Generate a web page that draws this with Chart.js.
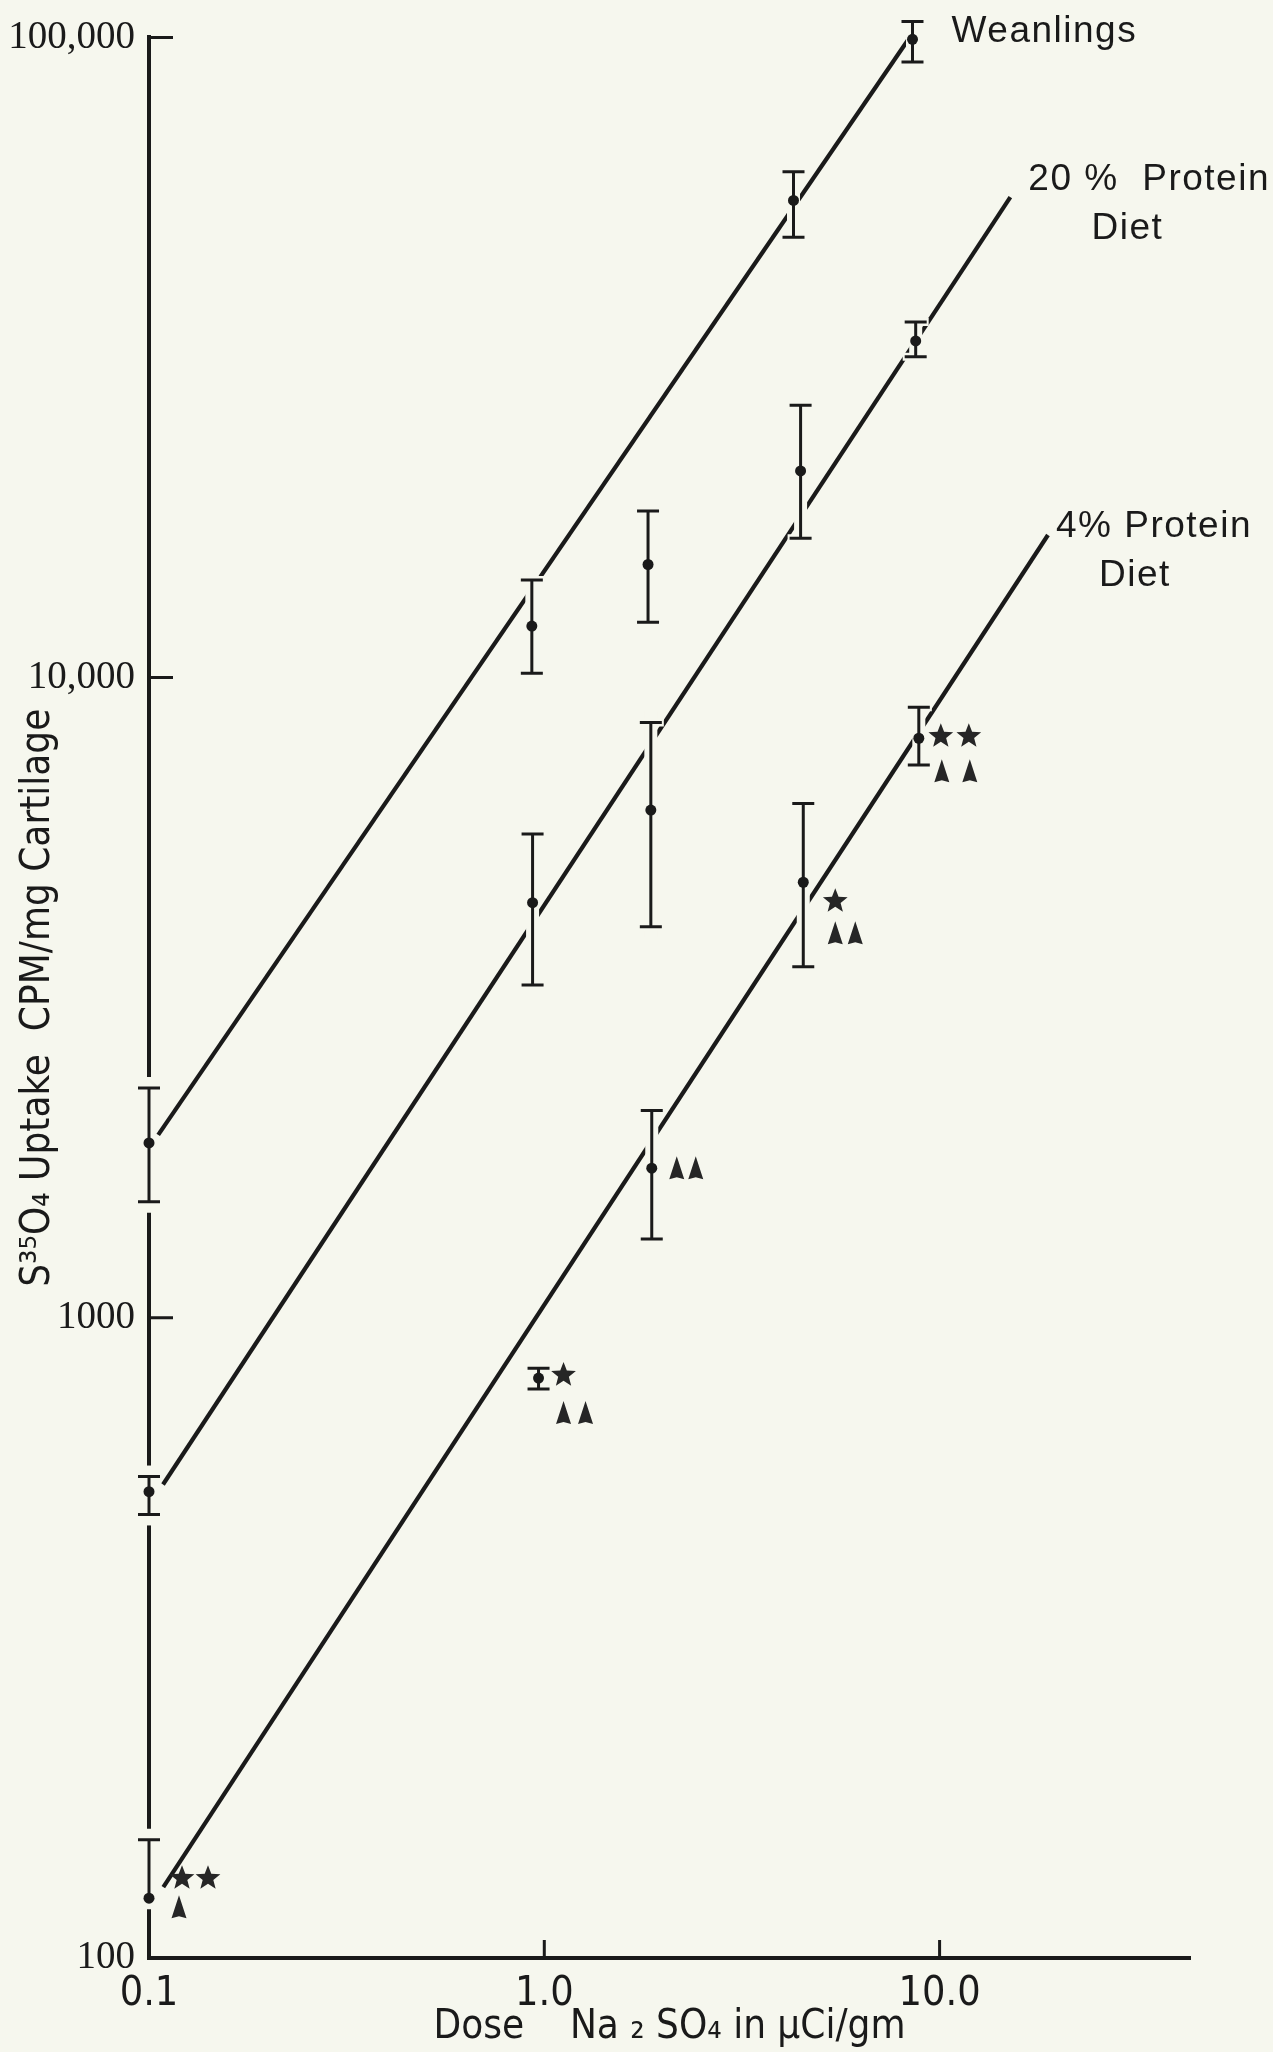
<!DOCTYPE html>
<html><head><meta charset="utf-8">
<script src="https://cdn.jsdelivr.net/npm/chart.js@4/dist/chart.umd.min.js"></script>
<style>
html,body{margin:0;padding:0;background:#f6f7ee;}
#wrap{position:absolute;left:0;top:0;width:1273px;height:2052px;}
</style></head><body>
<div id="wrap"><canvas id="c" width="1273" height="2052"></canvas></div>
<script>
// ---------------- data ----------------
const weanDose   = [0.1, 0.93, 1.83, 4.27, 8.54];
const weanUptake = [1876, 12035, 15020, 55630, 99300];
const weanHigh   = [2286, 14200, 18210, 61660, 105900];
const weanLow    = [1518, 10160, 12200, 48740, 91570];

const p20Dose   = [0.1, 0.934, 1.86, 4.45, 8.70];
const p20Uptake = [535, 4450, 6210, 21030, 33570];
const p20High   = [565, 5700, 8510, 26640, 35940];
const p20Low    = [493, 3310, 4080, 16500, 31700];

const p4Dose   = [0.1, 0.967, 1.87, 4.52, 8.86];
const p4Uptake = [124, 805, 1713, 4790, 8040];
const p4High   = [153, 834, 2107, 6360, 8985];
const p4Low    = [124, 774, 1328, 3534, 7303];

// fitted regression lines (end points)
const weanFitDose   = [0.1055, 8.3];
const weanFitUptake = [1931, 98900];
const p20FitDose    = [0.1085, 15.1];
const p20FitUptake  = [549, 56300];
const p4FitDose     = [0.1087, 18.8];
const p4FitUptake   = [129, 16700];

// significance symbols for the 4% protein group (count per point)
const p4Stars  = [2, 1, 0, 1, 2];
const p4Arrows = [1, 2, 2, 2, 2];

const xTickValues = [0.1, 1, 10];
const xTickLabels = ['0.1', '1.0', '10.0'];
const yTickValues = [100, 1000, 10000, 100000];
const yTickLabels = ['100', '1000', '10,000', '100,000'];

const seriesNames = ['Weanlings', ['20 %  Protein', 'Diet'], ['4% Protein', 'Diet']];
const xTitle = 'Dose    Na \u2082 SO\u2084 in \u00B5Ci/gm';
const yTitle = 'S\u00B3\u2075O\u2084 Uptake  CPM/mg Cartilage';

// ---------------- styling ----------------
const INK = '#1a1a1a';
const PAPER = '#f6f7ee';
const NARROW = '"Liberation Sans Narrow", "DejaVu Sans Condensed", "Liberation Sans", sans-serif';
const SERIF = '"Liberation Serif", "DejaVu Serif", serif';
const SANS = '"Liberation Sans", "DejaVu Sans", sans-serif';

// marker layout (pixel offsets from the data point)
const markLayout = [
  {s: [33, -20], ss: 26, a: [30, 9], as: 20},
  {s: [25, -3],  ss: 26, a: [25, 35], as: 22},
  {s: null,      ss: 26, a: [25, 0],  as: 19},
  {s: [32, 19],  ss: 26, a: [32, 51], as: 20},
  {s: [22, -2],  ss: 28, a: [23, 33], as: 28}
];
// series label layout (offsets from the fitted line's upper end)
const labelLayout = [
  [{dx: 44, dy: -9, align: 'left'}],
  [{dx: 18, dy: -17, align: 'left'}, {dx: 117, dy: 32, align: 'center'}],
  [{dx: 8, dy: -8, align: 'left'}, {dx: 87, dy: 41, align: 'center'}]
];

function pts(xs, ys) { return xs.map((x, i) => ({x: x, y: ys[i]})); }

function fitSet(label, xs, ys) {
  return {type: 'line', label: label, data: pts(xs, ys), borderColor: INK, borderWidth: 4.2,
          pointRadius: 0, fill: false, tension: 0, order: 2, clip: false};
}
function pointSet(label, xs, ys, hi, lo) {
  return {type: 'scatter', label: label, data: pts(xs, ys), errorHigh: hi, errorLow: lo,
          backgroundColor: INK, borderColor: INK, pointRadius: 5.5, borderWidth: 0, order: 1, clip: false};
}

const datasets = [
  fitSet('Weanlings fit', weanFitDose, weanFitUptake),
  fitSet('20% fit', p20FitDose, p20FitUptake),
  fitSet('4% fit', p4FitDose, p4FitUptake),
  pointSet('Weanlings', weanDose, weanUptake, weanHigh, weanLow),
  pointSet('20% Protein Diet', p20Dose, p20Uptake, p20High, p20Low),
  pointSet('4% Protein Diet', p4Dose, p4Uptake, p4High, p4Low)
];

// error bars, drawn just before each point set; a paper-coloured halo breaks the lines they cross
const errorBars = {
  id: 'errorBars',
  beforeDatasetDraw(chart, args) {
    const ds = chart.data.datasets[args.index];
    if (!ds.errorHigh) return;
    const ctx = chart.ctx, x = chart.scales.x, y = chart.scales.y;
    const cap = 11;
    ctx.save();
    ds.data.forEach((p, i) => {
      const px = x.getPixelForValue(p.x);
      const py = y.getPixelForValue(p.y);
      const yh = y.getPixelForValue(ds.errorHigh[i]);
      const yl = y.getPixelForValue(ds.errorLow[i]);
      const hasLow = ds.errorLow[i] < p.y;
      const bottom = hasLow ? yl : py;
      ctx.strokeStyle = PAPER;
      ctx.lineWidth = 13;
      ctx.beginPath();
      ctx.moveTo(px, yh - 11); ctx.lineTo(px, bottom + 11);
      ctx.stroke();
      ctx.lineWidth = 8;
      ctx.beginPath();
      ctx.moveTo(px - cap - 2, yh); ctx.lineTo(px + cap + 2, yh);
      if (hasLow) { ctx.moveTo(px - cap - 2, yl); ctx.lineTo(px + cap + 2, yl); }
      ctx.stroke();
      ctx.strokeStyle = INK;
      ctx.lineWidth = 3;
      ctx.beginPath();
      ctx.moveTo(px, yh); ctx.lineTo(px, bottom);
      ctx.moveTo(px - cap, yh); ctx.lineTo(px + cap, yh);
      if (hasLow) { ctx.moveTo(px - cap, yl); ctx.lineTo(px + cap, yl); }
      ctx.stroke();
    });
    ctx.restore();
  }
};

// inward tick marks
const tickMarks = {
  id: 'tickMarks',
  afterDatasetsDraw(chart) {
    const ctx = chart.ctx, x = chart.scales.x, y = chart.scales.y;
    ctx.save();
    ctx.strokeStyle = INK;
    ctx.lineWidth = 3;
    ctx.beginPath();
    yTickValues.forEach(v => {
      if (v === y.min) return;
      const py = y.getPixelForValue(v);
      ctx.moveTo(x.left, py); ctx.lineTo(x.left + 24, py);
    });
    xTickValues.forEach(v => {
      if (v === x.min) return;
      const px = x.getPixelForValue(v);
      ctx.moveTo(px, y.bottom); ctx.lineTo(px, y.bottom - 18);
    });
    ctx.stroke();
    ctx.restore();
  }
};

// series names next to the regression lines
const seriesLabels = {
  id: 'seriesLabels',
  afterDatasetsDraw(chart) {
    const ctx = chart.ctx;
    ctx.save();
    ctx.fillStyle = INK;
    ctx.font = '500 37px ' + SANS;
    ctx.textBaseline = 'middle';
    try { ctx.letterSpacing = '1.5px'; } catch (e) {}
    [0, 1, 2].forEach(k => {
      const meta = chart.getDatasetMeta(k);
      const end = meta.data[meta.data.length - 1];
      const names = Array.isArray(seriesNames[k]) ? seriesNames[k] : [seriesNames[k]];
      names.forEach((t, j) => {
        const L = labelLayout[k][j];
        ctx.textAlign = L.align;
        ctx.fillText(t, end.x + L.dx, end.y + L.dy);
      });
    });
    ctx.restore();
  }
};

function drawStar(ctx, cx, cy, R, r) {
  ctx.beginPath();
  for (let i = 0; i < 10; i++) {
    const ang = -Math.PI / 2 + i * Math.PI / 5;
    const rad = i % 2 === 0 ? R : r;
    const px = cx + rad * Math.cos(ang), py = cy + rad * Math.sin(ang);
    if (i === 0) ctx.moveTo(px, py); else ctx.lineTo(px, py);
  }
  ctx.closePath();
  ctx.fill();
}
function drawArrow(ctx, cx, cy) {
  ctx.beginPath();
  ctx.moveTo(cx, cy - 12);
  ctx.lineTo(cx + 7.5, cy + 11);
  ctx.lineTo(cx, cy + 9);
  ctx.lineTo(cx - 7.5, cy + 11);
  ctx.closePath();
  ctx.fill();
}

const sigMarks = {
  id: 'sigMarks',
  afterDatasetsDraw(chart) {
    const ctx = chart.ctx;
    const meta = chart.getDatasetMeta(5);
    ctx.save();
    ctx.fillStyle = '#262626';
    meta.data.forEach((el, i) => {
      const L = markLayout[i];
      for (let k = 0; k < p4Stars[i]; k++) drawStar(ctx, el.x + L.s[0] + k * L.ss, el.y + L.s[1], 13, 5.6);
      for (let k = 0; k < p4Arrows[i]; k++) drawArrow(ctx, el.x + L.a[0] + k * L.as, el.y + L.a[1]);
    });
    ctx.restore();
  }
};

new Chart(document.getElementById('c'), {
  data: {datasets: datasets},
  options: {
    responsive: false,
    devicePixelRatio: 1,
    animation: false,
    events: [],
    layout: {padding: {left: 0, right: 83, top: 37, bottom: 0}},
    plugins: {legend: {display: false}, tooltip: {enabled: false}},
    scales: {
      x: {
        type: 'logarithmic', position: 'bottom', min: 0.1, max: 43,
        afterBuildTicks: s => { s.ticks = xTickValues.map(v => ({value: v})); },
        afterFit: s => { s.height = 94; },
        grid: {display: false, drawTicks: false},
        border: {display: true, color: INK, width: 4},
        ticks: {autoSkip: false, maxRotation: 0, padding: 12, color: INK,
                font: {family: NARROW, size: 41},
                callback: v => { const i = xTickValues.indexOf(v); return i >= 0 ? xTickLabels[i] : ''; }},
        title: {display: true, text: xTitle, color: INK, font: {family: NARROW, size: 40},
                padding: {top: 0, bottom: 0}}
      },
      y: {
        type: 'logarithmic', position: 'left', min: 100, max: 100000,
        afterBuildTicks: s => { s.ticks = yTickValues.map(v => ({value: v})); },
        afterFit: s => { s.width = 149; },
        grid: {display: false, drawTicks: false},
        border: {display: true, color: INK, width: 4},
        ticks: {autoSkip: false, padding: 14, color: INK,
                font: {family: SERIF, size: 39},
                callback: v => { const i = yTickValues.indexOf(v); return i >= 0 ? yTickLabels[i] : ''; }},
        title: {display: true, text: yTitle, color: INK, font: {family: NARROW, size: 40},
                padding: {top: 15, bottom: 0}}
      }
    }
  },
  plugins: [errorBars, tickMarks, seriesLabels, sigMarks]
});
</script>
</body></html>
